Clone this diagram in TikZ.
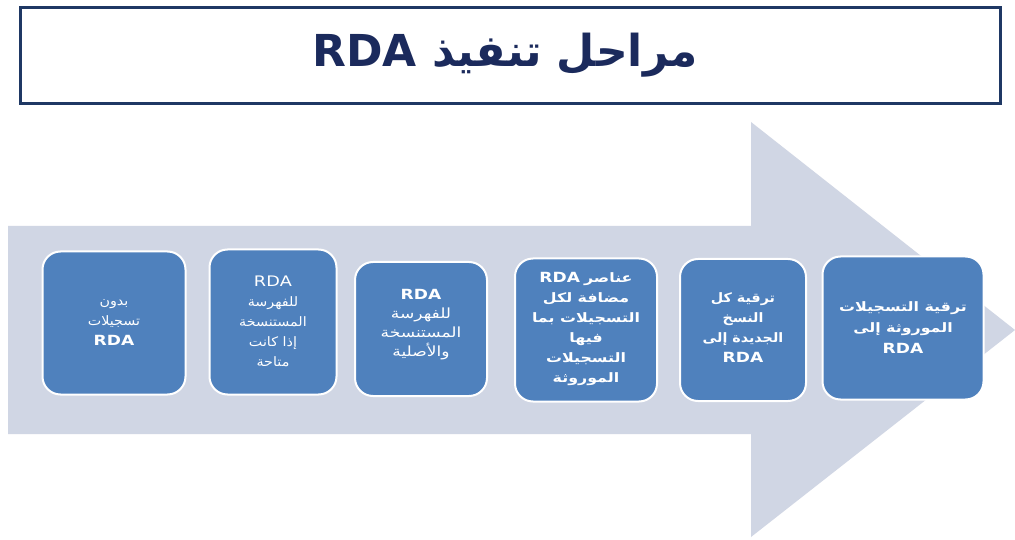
\documentclass[tikz,border=0pt]{standalone}
\usepackage{fontspec}
\TeXXeTstate=1
\newfontfamily\arabicfont[Script=Arabic]{DejaVu Sans}
\newfontfamily\arabicwide[Script=Arabic,FakeStretch=1.22]{DejaVu Sans}
\newfontfamily\arabicmid[Script=Arabic,FakeStretch=1.1]{DejaVu Sans}
\newcommand{\wl}[1]{{\arabicwide\bfseries\beginR #1\endR}}
\newcommand{\nl}[1]{{\arabicmid\bfseries\beginR #1\endR}}
\newcommand{\ml}[1]{{\arabicmid\beginR #1\endR}}
\newcommand{\xl}[1]{{\arabicwide\beginR #1\endR}}
\newcommand{\rdab}{{\arabicwide\bfseries\fontsize{14}{20}\selectfont RDA}}
\newcommand{\rdan}{{\arabicwide\fontsize{14.5}{20}\selectfont RDA}}
\definecolor{navy}{HTML}{1F3864}
\definecolor{titletext}{HTML}{1B2A5C}
\definecolor{arrowfill}{HTML}{D0D6E4}
\definecolor{boxfill}{HTML}{4F81BD}
\tikzset{
  stage/.style={draw=white, line width=2pt, fill=boxfill, rounded corners=18pt, inner sep=0pt},
  stagetext/.style={text=white, align=center, font=\arabicfont\fontsize{13}{20}\selectfont, inner sep=0pt},
  titlebox/.style={draw=navy, line width=3pt, fill=white, inner sep=0pt},
}
\begin{document}
\begin{tikzpicture}[x=1pt,y=-1pt]
\useasboundingbox[fill=white] (0,0) rectangle (1015,540);
% big arrow
\fill[arrowfill] (8,226) -- (751,226) -- (751,122) -- (1015,330) -- (751,537) -- (751,434) -- (8,434) -- cycle;
% title
\node[titlebox, minimum width=980pt, minimum height=96pt] (title) at (510,56) {};
\node[text=titletext, font=\arabicfont\bfseries\fontsize{44}{50}\selectfont, inner sep=0pt] (titletxt) at (505,55) {\beginR مراحل تنفيذ \beginL RDA\endL\endR};
% stage boxes
\node[stage, minimum width=143pt, minimum height=143pt] (b1) at (114,323) {};
\node[stage, minimum width=127pt, minimum height=145pt] (b2) at (273,322) {};
\node[stage, minimum width=132pt, minimum height=134pt] (b3) at (421,329) {};
\node[stage, minimum width=142pt, minimum height=143pt] (b4) at (586,330) {};
\node[stage, minimum width=126pt, minimum height=142pt] (b5) at (743,330) {};
\node[stage, minimum width=161pt, minimum height=143pt] (b6) at (903,328) {};
% stage texts
\node[stagetext] (t1) at (114,322) {\ml{بدون}\\ \ml{تسجيلات}\\ \rdab};
\node[stagetext] (t2) at (273,321) {\rdan\\ \ml{للفهرسة}\\ \ml{المستنسخة}\\ \ml{إذا كانت}\\ \ml{متاحة}};
\node[stagetext, font=\arabicfont\fontsize{14}{19}\selectfont] (t3) at (421,325) {\rdab\\ \xl{للفهرسة}\\ \xl{المستنسخة}\\ \xl{والأصلية}};
\node[stagetext] (t4) at (586,329) {\beginR\wl{عناصر} \beginL\rdab\endL\endR\\ \wl{مضافة لكل}\\ \wl{التسجيلات بما}\\ \wl{فيها}\\ \wl{التسجيلات}\\ \wl{الموروثة}};
\node[stagetext] (t5) at (743,328) {\nl{ترقية كل}\\ \nl{النسخ}\\ \nl{الجديدة إلى}\\ \rdab};
\node[stagetext, font=\arabicfont\fontsize{13}{21}\selectfont] (t6) at (903,328) {\wl{ترقية التسجيلات}\\ \wl{الموروثة إلى}\\ \rdab};
\end{tikzpicture}
\end{document}
